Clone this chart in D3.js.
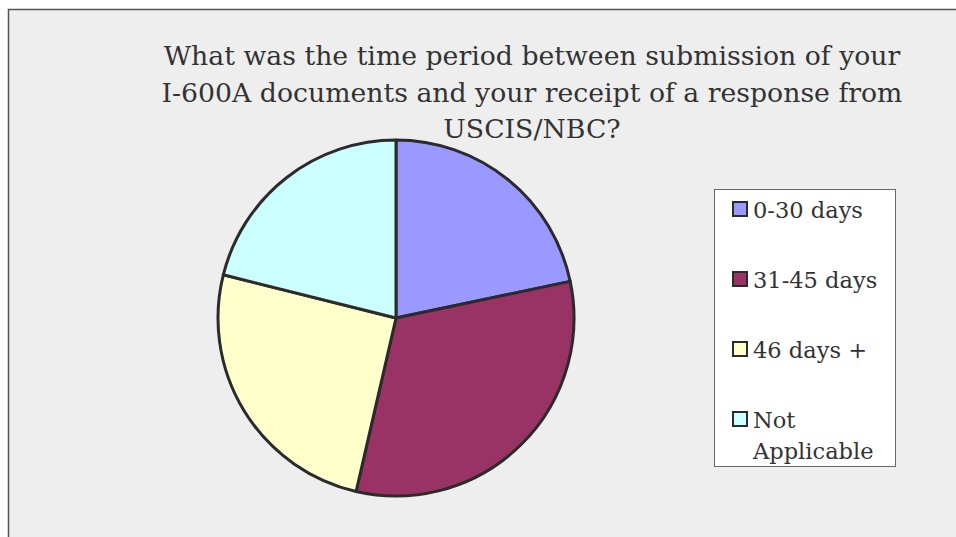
<!DOCTYPE html>
<html>
<head>
<meta charset="utf-8">
<script src="https://cdn.jsdelivr.net/npm/d3@7"></script>
<style>
  body { margin: 0; background: #ffffff; }
  svg { display: block; }
</style>
</head>
<body>
<div id="chart"></div>
<script>
// chart data
var categories = ["0-30 days", "31-45 days", "46 days +", "Not Applicable"];
var values = [21.7, 31.9, 25.3, 21.1];
var colors = ["#9999ff", "#993366", "#ffffcc", "#ccffff"];
var titleLines = [
  "What was the time period between submission of your",
  "I-600A documents and your receipt of a response from",
  "USCIS/NBC?"
];
// legend labels as they wrap in the box
var legendLines = [["0-30 days"], ["31-45 days"], ["46 days +"], ["Not", "Applicable"]];

var width = 956, height = 537;
var fontFamily = "'DejaVu Serif', serif";

var svg = d3.select("#chart").append("svg")
  .attr("width", width)
  .attr("height", height);

//chart area background and frame
svg.append("rect")
  .attr("x", 8.5).attr("y", 9.5)
  .attr("width", width + 10).attr("height", height + 10)
  .attr("fill", "#eeeeee")
  .attr("stroke", "#555555")
  .attr("stroke-width", 1.5);

//title
var title = svg.append("g").attr("font-family", fontFamily).attr("fill", "#333333");
var tFont = 26;
title.selectAll("text")
  .data(titleLines)
  .enter()
  .append("text")
    .attr("x", 532)
    .attr("y", function(d, i){ return 65 + i * 36.5; })
    .attr("text-anchor", "middle")
    .attr("font-size", tFont)
    .text(function(d){ return d; });

//fit first title line to the reference width (about 737px)
var w0 = title.select("text").node().getComputedTextLength();
tFont = tFont * 737 / w0;
title.selectAll("text").attr("font-size", tFont);

//pie
var cx = 396, cy = 318, radius = 178;
var pie = d3.pie().sort(null).value(function(d){ return d; });
var arc = d3.arc().innerRadius(0).outerRadius(radius);

svg.append("g")
  .attr("transform", "translate(" + cx + "," + cy + ")")
  .selectAll("path")
  .data(pie(values))
  .enter()
  .append("path")
    .attr("d", arc)
    .attr("fill", function(d, i){ return colors[i]; })
    .attr("stroke", "#2b2b2b")
    .attr("stroke-width", 3)
    .attr("stroke-linejoin", "round");

//legend box
svg.append("rect")
  .attr("x", 714.5).attr("y", 189.5)
  .attr("width", 181).attr("height", 277)
  .attr("fill", "#ffffff")
  .attr("stroke", "#666666")
  .attr("stroke-width", 1);

var rowY = d3.scalePoint()
  .domain(categories)
  .range([218, 428]);

var legend = svg.append("g").attr("font-family", fontFamily).attr("fill", "#333333");
var items = legend.selectAll("g")
  .data(categories)
  .enter()
  .append("g")
    .attr("transform", function(d){ return "translate(0," + rowY(d) + ")"; });

items.append("rect")
  .attr("x", 733).attr("y", -16)
  .attr("width", 14).attr("height", 14)
  .attr("fill", function(d, i){ return colors[i]; })
  .attr("stroke", "#2b2b2b")
  .attr("stroke-width", 2);

var lText = items.append("text")
  .attr("x", 753)
  .attr("font-size", 21);
lText.selectAll("tspan")
  .data(function(d, i){ return legendLines[i]; })
  .enter()
  .append("tspan")
    .attr("x", 753)
    .attr("dy", function(d, i){ return i == 0 ? 0 : 31; })
    .text(function(d){ return d; });

//fit legend font to "0-30 days" width (about 110px)
var lw = lText.node().getComputedTextLength();
lText.attr("font-size", 21 * 110 / lw);
</script>
</body>
</html>
